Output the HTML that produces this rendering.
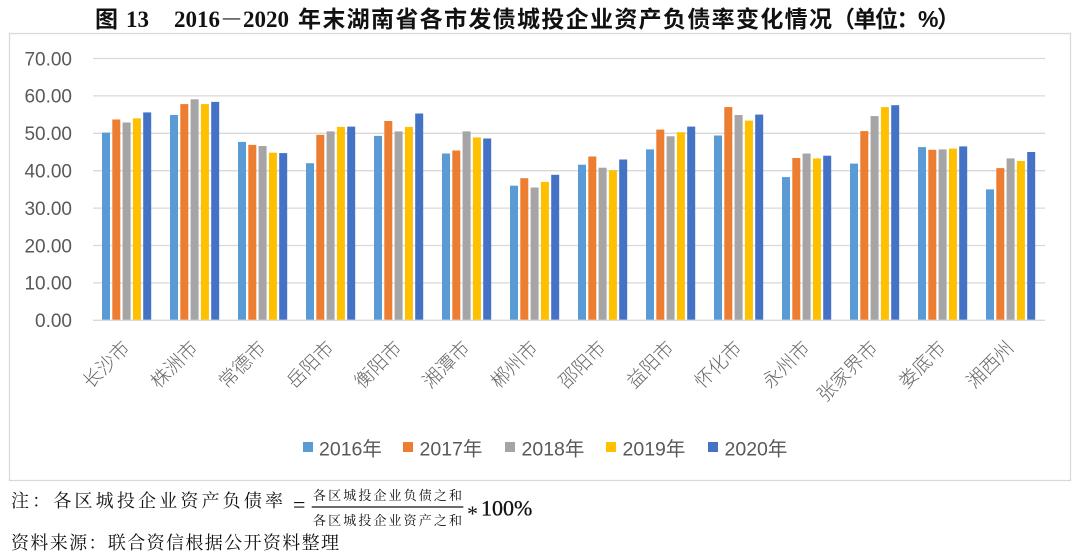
<!DOCTYPE html>
<html>
<head>
<meta charset="utf-8">
<style>
  html, body { margin:0; padding:0; background:#fff; }
  body { width:1080px; height:560px; overflow:hidden; }
  svg { display:block; }
  .yl { font-family:"Liberation Sans","Noto Sans CJK SC",sans-serif; font-size:19px; fill:#595959; }
  .cl { font-family:"Liberation Sans","Noto Sans CJK SC",sans-serif; font-size:19px; fill:#666; font-weight:300; }
  .lg { font-family:"Liberation Sans","Noto Sans CJK SC",sans-serif; font-size:19.5px; fill:#595959; }
  .tc { font-family:"Liberation Sans","Noto Sans CJK SC",sans-serif; font-size:23px; font-weight:bold; fill:#111; }
  .td { font-family:"Liberation Serif","Noto Serif CJK SC",serif; font-size:23px; font-weight:bold; fill:#111; }
  .fn { font-family:"Liberation Serif","Noto Serif CJK SC",serif; font-size:18px; fill:#111; }
  .fs { font-family:"Liberation Serif","Noto Serif CJK SC",serif; font-size:13px; fill:#111; }
  .fm { font-family:"Liberation Serif","DejaVu Serif",serif; font-size:22px; fill:#111; }
</style>
</head>
<body>
<svg width="1080" height="560" viewBox="0 0 1080 560" xmlns="http://www.w3.org/2000/svg">
  <rect x="0" y="0" width="1080" height="560" fill="#fff"/>

  <!-- Title -->
  <text class="tc" x="95" y="27">图</text>
  <text class="td" x="126" y="27">13</text>
  <text class="td" x="174" y="27">2016－2020</text>
  <text class="tc" x="298" y="27" textLength="534" lengthAdjust="spacing">年末湖南省各市发债城投企业资产负债率变化情况</text>
  <text class="tc" x="832" y="27" textLength="128" lengthAdjust="spacing">（单位：%）</text>

  <!-- Chart frame -->
  <rect x="9.5" y="33.5" width="1061" height="447" fill="none" stroke="#d9d9d9" stroke-width="1.3"/>

  <!-- Gridlines -->
  <g stroke="#d9d9d9" stroke-width="1.3">
    <line x1="93" y1="58.5" x2="1045" y2="58.5"/>
    <line x1="93" y1="95.9" x2="1045" y2="95.9"/>
    <line x1="93" y1="133.3" x2="1045" y2="133.3"/>
    <line x1="93" y1="170.7" x2="1045" y2="170.7"/>
    <line x1="93" y1="208.1" x2="1045" y2="208.1"/>
    <line x1="93" y1="245.5" x2="1045" y2="245.5"/>
    <line x1="93" y1="282.9" x2="1045" y2="282.9"/>
  </g>

  <!-- Y labels -->
  <g class="yl" text-anchor="end">
    <text x="72" y="65.3">70.00</text>
    <text x="72" y="102.7">60.00</text>
    <text x="72" y="140.1">50.00</text>
    <text x="72" y="177.5">40.00</text>
    <text x="72" y="214.9">30.00</text>
    <text x="72" y="252.3">20.00</text>
    <text x="72" y="289.7">10.00</text>
    <text x="72" y="327.1">0.00</text>
  </g>

  <!-- Bars -->
  <g>
    <g transform="translate(102,0)">
      <rect x="0" y="132.6" width="8" height="187.7" fill="#5B9BD5"/>
      <rect x="10.3" y="119.5" width="8" height="200.8" fill="#ED7D31"/>
      <rect x="20.6" y="122.5" width="8" height="197.8" fill="#A5A5A5"/>
      <rect x="30.9" y="118.3" width="8" height="202.0" fill="#FFC000"/>
      <rect x="41.2" y="112.4" width="8" height="207.9" fill="#4472C4"/>
    </g>
    <g transform="translate(170,0)">
      <rect x="0" y="115.0" width="8" height="205.3" fill="#5B9BD5"/>
      <rect x="10.3" y="104.1" width="8" height="216.2" fill="#ED7D31"/>
      <rect x="20.6" y="99.3" width="8" height="221.0" fill="#A5A5A5"/>
      <rect x="30.9" y="104.1" width="8" height="216.2" fill="#FFC000"/>
      <rect x="41.2" y="101.9" width="8" height="218.4" fill="#4472C4"/>
    </g>
    <g transform="translate(238,0)">
      <rect x="0" y="141.9" width="8" height="178.4" fill="#5B9BD5"/>
      <rect x="10.3" y="144.9" width="8" height="175.4" fill="#ED7D31"/>
      <rect x="20.6" y="146.0" width="8" height="174.3" fill="#A5A5A5"/>
      <rect x="30.9" y="152.7" width="8" height="167.6" fill="#FFC000"/>
      <rect x="41.2" y="153.1" width="8" height="167.2" fill="#4472C4"/>
    </g>
    <g transform="translate(306,0)">
      <rect x="0" y="163.2" width="8" height="157.1" fill="#5B9BD5"/>
      <rect x="10.3" y="134.8" width="8" height="185.5" fill="#ED7D31"/>
      <rect x="20.6" y="131.4" width="8" height="188.9" fill="#A5A5A5"/>
      <rect x="30.9" y="126.9" width="8" height="193.4" fill="#FFC000"/>
      <rect x="41.2" y="126.6" width="8" height="193.7" fill="#4472C4"/>
    </g>
    <g transform="translate(374,0)">
      <rect x="0" y="135.9" width="8" height="184.4" fill="#5B9BD5"/>
      <rect x="10.3" y="121.0" width="8" height="199.3" fill="#ED7D31"/>
      <rect x="20.6" y="131.4" width="8" height="188.9" fill="#A5A5A5"/>
      <rect x="30.9" y="126.9" width="8" height="193.4" fill="#FFC000"/>
      <rect x="41.2" y="113.5" width="8" height="206.8" fill="#4472C4"/>
    </g>
    <g transform="translate(442,0)">
      <rect x="0" y="153.5" width="8" height="166.8" fill="#5B9BD5"/>
      <rect x="10.3" y="150.5" width="8" height="169.8" fill="#ED7D31"/>
      <rect x="20.6" y="131.4" width="8" height="188.9" fill="#A5A5A5"/>
      <rect x="30.9" y="137.4" width="8" height="182.9" fill="#FFC000"/>
      <rect x="41.2" y="138.5" width="8" height="181.8" fill="#4472C4"/>
    </g>
    <g transform="translate(510,0)">
      <rect x="0" y="185.7" width="8" height="134.6" fill="#5B9BD5"/>
      <rect x="10.3" y="178.2" width="8" height="142.1" fill="#ED7D31"/>
      <rect x="20.6" y="187.5" width="8" height="132.8" fill="#A5A5A5"/>
      <rect x="30.9" y="181.9" width="8" height="138.4" fill="#FFC000"/>
      <rect x="41.2" y="174.8" width="8" height="145.5" fill="#4472C4"/>
    </g>
    <g transform="translate(578,0)">
      <rect x="0" y="164.7" width="8" height="155.6" fill="#5B9BD5"/>
      <rect x="10.3" y="156.5" width="8" height="163.8" fill="#ED7D31"/>
      <rect x="20.6" y="167.7" width="8" height="152.6" fill="#A5A5A5"/>
      <rect x="30.9" y="170.3" width="8" height="150.0" fill="#FFC000"/>
      <rect x="41.2" y="159.5" width="8" height="160.8" fill="#4472C4"/>
    </g>
    <g transform="translate(646,0)">
      <rect x="0" y="149.4" width="8" height="170.9" fill="#5B9BD5"/>
      <rect x="10.3" y="129.6" width="8" height="190.7" fill="#ED7D31"/>
      <rect x="20.6" y="136.3" width="8" height="184.0" fill="#A5A5A5"/>
      <rect x="30.9" y="132.2" width="8" height="188.1" fill="#FFC000"/>
      <rect x="41.2" y="126.6" width="8" height="193.7" fill="#4472C4"/>
    </g>
    <g transform="translate(714,0)">
      <rect x="0" y="135.5" width="8" height="184.8" fill="#5B9BD5"/>
      <rect x="10.3" y="107.1" width="8" height="213.2" fill="#ED7D31"/>
      <rect x="20.6" y="115.0" width="8" height="205.3" fill="#A5A5A5"/>
      <rect x="30.9" y="120.6" width="8" height="199.7" fill="#FFC000"/>
      <rect x="41.2" y="114.6" width="8" height="205.7" fill="#4472C4"/>
    </g>
    <g transform="translate(782,0)">
      <rect x="0" y="177.1" width="8" height="143.2" fill="#5B9BD5"/>
      <rect x="10.3" y="158.0" width="8" height="162.3" fill="#ED7D31"/>
      <rect x="20.6" y="153.5" width="8" height="166.8" fill="#A5A5A5"/>
      <rect x="30.9" y="158.4" width="8" height="161.9" fill="#FFC000"/>
      <rect x="41.2" y="155.7" width="8" height="164.6" fill="#4472C4"/>
    </g>
    <g transform="translate(850,0)">
      <rect x="0" y="163.6" width="8" height="156.7" fill="#5B9BD5"/>
      <rect x="10.3" y="131.1" width="8" height="189.2" fill="#ED7D31"/>
      <rect x="20.6" y="116.1" width="8" height="204.2" fill="#A5A5A5"/>
      <rect x="30.9" y="107.1" width="8" height="213.2" fill="#FFC000"/>
      <rect x="41.2" y="105.2" width="8" height="215.1" fill="#4472C4"/>
    </g>
    <g transform="translate(918,0)">
      <rect x="0" y="147.1" width="8" height="173.2" fill="#5B9BD5"/>
      <rect x="10.3" y="149.8" width="8" height="170.5" fill="#ED7D31"/>
      <rect x="20.6" y="149.4" width="8" height="170.9" fill="#A5A5A5"/>
      <rect x="30.9" y="148.6" width="8" height="171.7" fill="#FFC000"/>
      <rect x="41.2" y="146.4" width="8" height="173.9" fill="#4472C4"/>
    </g>
    <g transform="translate(986,0)">
      <rect x="0" y="189.4" width="8" height="130.9" fill="#5B9BD5"/>
      <rect x="10.3" y="168.1" width="8" height="152.2" fill="#ED7D31"/>
      <rect x="20.6" y="158.4" width="8" height="161.9" fill="#A5A5A5"/>
      <rect x="30.9" y="161.0" width="8" height="159.3" fill="#FFC000"/>
      <rect x="41.2" y="152.0" width="8" height="168.3" fill="#4472C4"/>
    </g>
  </g>

  <!-- Zero axis -->
  <line x1="93" y1="320.3" x2="1045" y2="320.3" stroke="#d9d9d9" stroke-width="1.3"/>

  <!-- Category labels -->
  <g class="cl" text-anchor="end">
    <text transform="translate(131,349) rotate(-45)">长沙市</text>
    <text transform="translate(199,349) rotate(-45)">株洲市</text>
    <text transform="translate(267,349) rotate(-45)">常德市</text>
    <text transform="translate(335,349) rotate(-45)">岳阳市</text>
    <text transform="translate(403,349) rotate(-45)">衡阳市</text>
    <text transform="translate(471,349) rotate(-45)">湘潭市</text>
    <text transform="translate(539,349) rotate(-45)">郴州市</text>
    <text transform="translate(607,349) rotate(-45)">邵阳市</text>
    <text transform="translate(675,349) rotate(-45)">益阳市</text>
    <text transform="translate(743,349) rotate(-45)">怀化市</text>
    <text transform="translate(811,349) rotate(-45)">永州市</text>
    <text transform="translate(879,349) rotate(-45)">张家界市</text>
    <text transform="translate(947,349) rotate(-45)">娄底市</text>
    <text transform="translate(1015,349) rotate(-45)">湘西州</text>
  </g>

  <!-- Legend -->
  <g>
    <rect x="303" y="442" width="10" height="10" fill="#5B9BD5"/>
    <text class="lg" x="319" y="455.5">2016年</text>
    <rect x="403" y="442" width="10" height="10" fill="#ED7D31"/>
    <text class="lg" x="419.5" y="455.5">2017年</text>
    <rect x="505" y="442" width="10" height="10" fill="#A5A5A5"/>
    <text class="lg" x="521.5" y="455.5">2018年</text>
    <rect x="606" y="442" width="10" height="10" fill="#FFC000"/>
    <text class="lg" x="622.5" y="455.5">2019年</text>
    <rect x="708" y="442" width="10" height="10" fill="#4472C4"/>
    <text class="lg" x="724.5" y="455.5">2020年</text>
  </g>

  <!-- Footnotes -->
  <text class="fn" x="11" y="507" textLength="272" lengthAdjust="spacing">注：各区城投企业资产负债率</text>
  <text class="fm" x="293" y="512">=</text>
  <text class="fs" x="313" y="500" textLength="149" lengthAdjust="spacing">各区城投企业负债之和</text>
  <line x1="311.7" y1="507" x2="463.3" y2="507" stroke="#111" stroke-width="1.2"/>
  <text class="fs" x="313" y="525" textLength="149" lengthAdjust="spacing">各区城投企业资产之和</text>
  <text class="fm" x="467" y="521">*</text>
  <text class="fm" x="481" y="515.5" style="font-weight:500;stroke:#111;stroke-width:0.3">100%</text>
  <text class="fn" x="11" y="549" textLength="328" lengthAdjust="spacing">资料来源：联合资信根据公开资料整理</text>
</svg>
</body>
</html>
